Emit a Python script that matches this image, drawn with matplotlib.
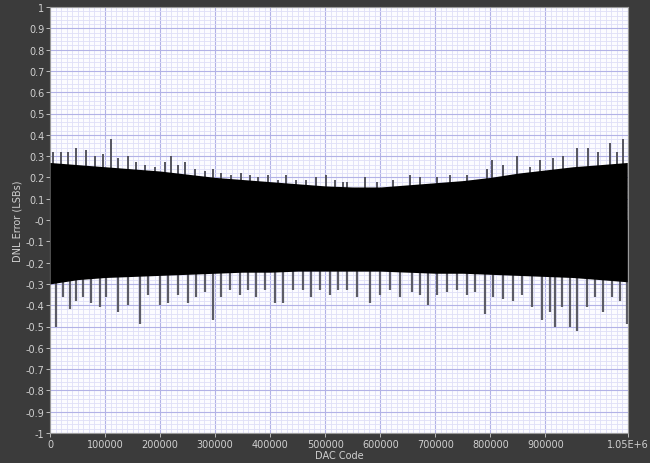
import numpy as np
import matplotlib.pyplot as plt
from matplotlib.ticker import MultipleLocator

# solid part of the DNL band (x in DAC codes)
env_x = [0, 50000, 100000, 150000, 200000, 250000, 300000, 350000, 400000, 450000, 500000,
         550000, 600000, 650000, 700000, 750000, 800000, 850000, 900000, 950000, 1000000, 1048575]
core_top = [0.27, 0.26, 0.25, 0.24, 0.23, 0.215, 0.20, 0.19, 0.18, 0.17, 0.16,
            0.155, 0.155, 0.165, 0.175, 0.185, 0.20, 0.22, 0.235, 0.25, 0.26, 0.27]
core_bot = [-0.30, -0.28, -0.27, -0.265, -0.26, -0.255, -0.25, -0.245, -0.245, -0.24, -0.24,
            -0.24, -0.24, -0.245, -0.25, -0.25, -0.255, -0.26, -0.265, -0.27, -0.28, -0.29]

# spikes poking out of the band (tips)
up_x = [5000, 20000, 33000, 47000, 65000, 82000, 96000, 111000, 124000, 142000, 156000,
        173000, 191000, 209000, 220000, 233000, 245000, 263000, 282000, 296000, 311000,
        329000, 347000, 363000, 378000, 396000, 414000, 429000, 447000, 465000, 483000,
        501000, 518000, 532000, 540000, 572000, 594000, 623000, 654000, 672000, 703000,
        727000, 758000, 794000, 803000, 823000, 848000, 872000, 890000, 914000, 932000,
        957000, 977000, 996000, 1017000, 1030000, 1041000]
up_y = [0.32, 0.32, 0.32, 0.34, 0.33, 0.30, 0.31, 0.38, 0.29, 0.30, 0.27,
        0.26, 0.25, 0.27, 0.30, 0.26, 0.27, 0.24, 0.23, 0.24, 0.22,
        0.21, 0.22, 0.21, 0.20, 0.21, 0.19, 0.21, 0.19, 0.19, 0.20,
        0.21, 0.19, 0.18, 0.18, 0.20, 0.18, 0.19, 0.21, 0.20, 0.20,
        0.21, 0.21, 0.24, 0.28, 0.26, 0.30, 0.25, 0.28, 0.29, 0.30,
        0.34, 0.34, 0.32, 0.36, 0.32, 0.38]
dn_x = [11000, 24000, 36000, 47000, 60000, 75000, 91000, 102000, 124000, 142000, 164000,
        178000, 200000, 214000, 233000, 251000, 265000, 282000, 296000, 311000, 327000,
        345000, 360000, 374000, 391000, 409000, 423000, 441000, 460000, 474000, 491000,
        509000, 523000, 540000, 558000, 581000, 600000, 618000, 636000, 658000, 672000,
        687000, 703000, 721000, 739000, 758000, 772000, 790000, 805000, 823000, 841000,
        857000, 876000, 894000, 908000, 917000, 930000, 945000, 957000, 976000, 990000,
        1005000, 1021000, 1035000, 1048000]
dn_y = [-0.50, -0.36, -0.42, -0.38, -0.36, -0.39, -0.41, -0.36, -0.43, -0.40, -0.49,
        -0.35, -0.40, -0.39, -0.35, -0.39, -0.36, -0.34, -0.47, -0.36, -0.33,
        -0.35, -0.33, -0.36, -0.33, -0.39, -0.39, -0.33, -0.33, -0.36, -0.33,
        -0.35, -0.33, -0.33, -0.36, -0.39, -0.35, -0.33, -0.36, -0.34, -0.35,
        -0.40, -0.35, -0.34, -0.33, -0.35, -0.34, -0.44, -0.36, -0.37, -0.38,
        -0.35, -0.41, -0.47, -0.43, -0.50, -0.41, -0.50, -0.52, -0.41, -0.36,
        -0.43, -0.36, -0.38, -0.49]

x_ticks = [0, 100000, 200000, 300000, 400000, 500000, 600000, 700000, 800000, 900000, 1050000]
x_labels = ['0', '100000', '200000', '300000', '400000', '500000', '600000',
            '700000', '800000', '900000', '1.05E+6']
y_ticks = np.round(np.arange(-1, 1.01, 0.1), 1)

txt = '#d0d0d0'
fig = plt.figure(figsize=(6.5, 4.64), dpi=100, facecolor='#3b3b3b')
ax = fig.add_axes([50/650, 30/464, 578/650, 426/464])
ax.set_facecolor('#fcfcff')

ax.xaxis.set_minor_locator(MultipleLocator(10000))
ax.yaxis.set_minor_locator(MultipleLocator(0.02))
ax.grid(which='minor', color='#dfdff7', lw=0.6)
ax.grid(which='major', color='#b2b2e6', lw=0.8)
ax.set_axisbelow(True)

ax.vlines(up_x, 0, up_y, color='#55555e', lw=1.4, zorder=2)
ax.vlines(dn_x, 0, dn_y, color='#5c5c66', lw=1.6, zorder=2)
ax.fill_between(env_x, core_bot, core_top, color='black', lw=0, zorder=3)

ax.set_xlim(0, 1050000)
ax.set_ylim(-1, 1)
ax.set_xticks(x_ticks)
ax.set_xticklabels(x_labels)
ax.set_yticks(y_ticks)
ax.set_yticklabels(['%g' % v for v in y_ticks])
ax.tick_params(which='major', colors=txt, labelsize=7, length=3, width=0.6, pad=1)
ax.tick_params(which='minor', length=0)
for s in ax.spines.values():
    s.set_color('#9a9a9a')
    s.set_linewidth(0.8)

ax.set_xlabel('DAC Code', color=txt, fontsize=7, labelpad=1)
ax.set_ylabel('DNL Error (LSBs)', color=txt, fontsize=7, labelpad=2)

fig.savefig('out.png', dpi=100, facecolor=fig.get_facecolor())
